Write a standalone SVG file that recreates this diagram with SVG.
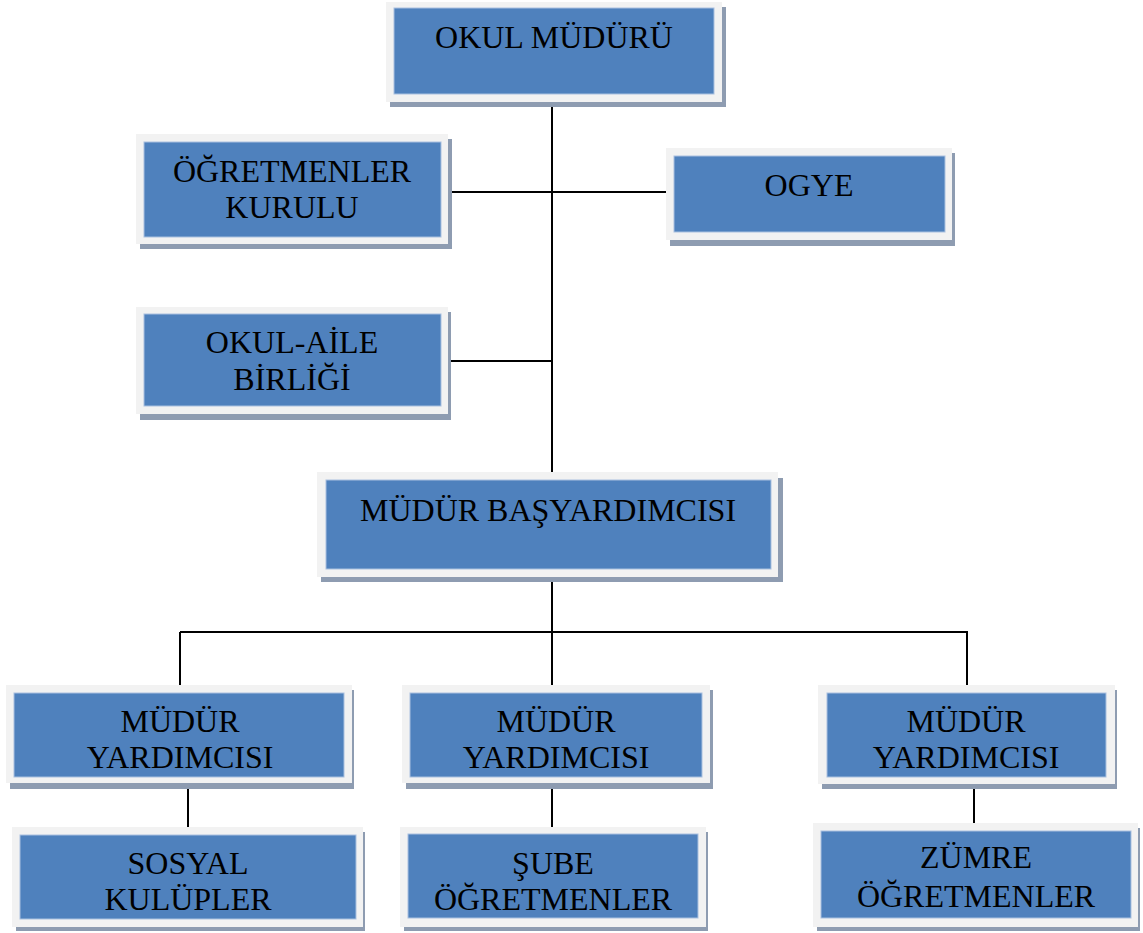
<svg xmlns="http://www.w3.org/2000/svg" width="1143" height="933" viewBox="0 0 1143 933">
<style>
.sh{fill:#8e9cb1}
.fr{fill:#f2f2f2}
.in{fill:#4f81bd;stroke:#a9c0df;stroke-width:1}
.t{font-family:"Liberation Serif","Times New Roman",serif;font-size:32px;fill:#000;text-anchor:middle}
.c{stroke:#000;stroke-width:2;fill:none}
</style>
<rect width="1143" height="933" fill="#fff"/>
<g id="connectors">
<path class="c" d="M552 97V472M448 192H666M448 361H552M552 577V685M180 632H968M180 632V685M967 632V685M188 782V827M552 780V827M974 782V823"/>
</g>
<g id="okul-muduru">
<rect class="sh" x="390" y="7" width="336" height="100"/>
<rect class="fr" x="386" y="2" width="336" height="100"/>
<rect class="in" x="394" y="8" width="320" height="86"/>
<text class="t" x="554" y="48">OKUL MÜDÜRÜ</text>
</g>
<g id="ogretmenler-kurulu">
<rect class="sh" x="140" y="139" width="312" height="110"/>
<rect class="fr" x="136" y="134" width="312" height="110"/>
<rect class="in" x="144" y="142" width="297" height="95"/>
<text class="t" x="292" y="182">ÖĞRETMENLER</text>
<text class="t" x="292" y="218">KURULU</text>
</g>
<g id="ogye">
<rect class="sh" x="670" y="153" width="285" height="93"/>
<rect class="fr" x="666" y="148" width="286" height="92"/>
<rect class="in" x="674" y="156" width="271" height="76"/>
<text class="t" x="809" y="196">OGYE</text>
</g>
<g id="okul-aile-birligi">
<rect class="sh" x="140" y="312" width="311" height="108"/>
<rect class="fr" x="136" y="307" width="312" height="107"/>
<rect class="in" x="144" y="314" width="297" height="92"/>
<text class="t" x="292" y="353">OKUL-AİLE</text>
<text class="t" x="292" y="390">BİRLİĞİ</text>
</g>
<g id="mudur-basyardimcisi">
<rect class="sh" x="321" y="478" width="462" height="104"/>
<rect class="fr" x="317" y="472" width="461" height="105"/>
<rect class="in" x="326" y="480" width="445" height="89"/>
<text class="t" x="548" y="521">MÜDÜR BAŞYARDIMCISI</text>
</g>
<g id="mudur-yardimcisi-1">
<rect class="sh" x="10" y="690" width="344" height="99"/>
<rect class="fr" x="6" y="685" width="346" height="98"/>
<rect class="in" x="14" y="693" width="330" height="84"/>
<text class="t" x="180" y="732">MÜDÜR</text>
<text class="t" x="180" y="768">YARDIMCISI</text>
</g>
<g id="mudur-yardimcisi-2">
<rect class="sh" x="406" y="690" width="307" height="99"/>
<rect class="fr" x="402" y="685" width="308" height="98"/>
<rect class="in" x="410" y="693" width="292" height="84"/>
<text class="t" x="556" y="732">MÜDÜR</text>
<text class="t" x="556" y="768">YARDIMCISI</text>
</g>
<g id="mudur-yardimcisi-3">
<rect class="sh" x="822" y="690" width="295" height="99"/>
<rect class="fr" x="818" y="685" width="297" height="99"/>
<rect class="in" x="827" y="693" width="279" height="84"/>
<text class="t" x="966" y="732">MÜDÜR</text>
<text class="t" x="966" y="768">YARDIMCISI</text>
</g>
<g id="sosyal-kulupler">
<rect class="sh" x="16" y="832" width="349" height="99"/>
<rect class="fr" x="12" y="827" width="351" height="100"/>
<rect class="in" x="20" y="835" width="336" height="84"/>
<text class="t" x="188" y="874">SOSYAL</text>
<text class="t" x="188" y="910">KULÜPLER</text>
</g>
<g id="sube-ogretmenler">
<rect class="sh" x="404" y="832" width="304" height="99"/>
<rect class="fr" x="400" y="827" width="306" height="100"/>
<rect class="in" x="408" y="834" width="290" height="84"/>
<text class="t" x="553" y="874">ŞUBE</text>
<text class="t" x="553" y="910">ÖĞRETMENLER</text>
</g>
<g id="zumre-ogretmenler">
<rect class="sh" x="817" y="828" width="323" height="103"/>
<rect class="fr" x="813" y="823" width="325" height="104"/>
<rect class="in" x="821" y="831" width="310" height="87"/>
<text class="t" x="976" y="868">ZÜMRE</text>
<text class="t" x="976" y="907">ÖĞRETMENLER</text>
</g>
</svg>
